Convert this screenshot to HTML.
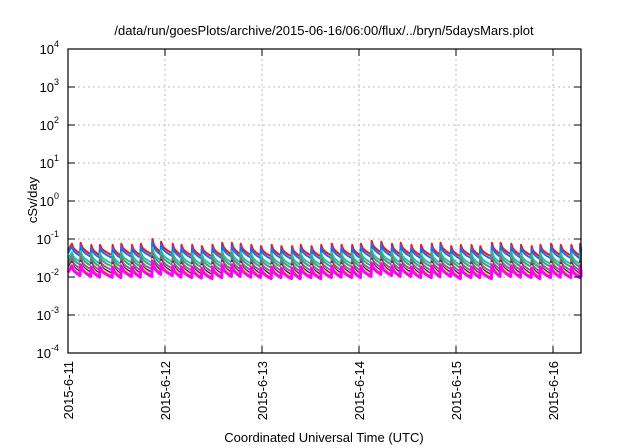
<!DOCTYPE html>
<html><head><meta charset="utf-8"><style>
body{margin:0;background:#fff}
svg{display:block;font-family:"Liberation Sans",sans-serif}
</style></head><body>
<svg id="chart" width="640" height="448" viewBox="0 0 640 448">
<rect width="640" height="448" fill="#fff"/>
<text x="324" y="35" font-size="13" text-anchor="middle">/data/run/goesPlots/archive/2015-06-16/06:00/flux/../bryn/5daysMars.plot</text>
<g id="grid"></g><g id="series"></g><g id="axes"></g>
<text x="324" y="442" font-size="13" text-anchor="middle">Coordinated Universal Time (UTC)</text>
<text transform="translate(37,200) rotate(-90)" font-size="13" text-anchor="middle">cSv/day</text>
</svg>
<script>
const dayLabels=["2015-6-11","2015-6-12","2015-6-13","2015-6-14","2015-6-15","2015-6-16"];
const yExps=[-4,-3,-2,-1,0,1,2,3,4];
const peakTimes=[0.04,0.13,0.24,0.33,0.46,0.55,0.66,0.75,0.87,0.96,1.08,1.17,1.28,1.38,1.49,1.59,1.69,1.78,1.89,1.99,2.10,2.20,2.31,2.40,2.51,2.61,2.72,2.82,2.93,3.02,3.13,3.23,3.34,3.43,3.54,3.64,3.75,3.84,3.95,4.05,4.16,4.25,4.37,4.46,4.57,4.67,4.78,4.87,4.98,5.08,5.19,5.28];
const peakVals=[0.075,0.08,0.07,0.07,0.07,0.075,0.07,0.075,0.1,0.085,0.075,0.07,0.07,0.065,0.07,0.08,0.08,0.075,0.07,0.065,0.07,0.065,0.065,0.07,0.065,0.07,0.075,0.07,0.07,0.075,0.09,0.085,0.075,0.08,0.07,0.07,0.075,0.08,0.065,0.07,0.07,0.065,0.08,0.08,0.075,0.07,0.065,0.07,0.075,0.07,0.07,0.075];
const troughVals=[0.042,0.04,0.038,0.038,0.037,0.04,0.038,0.04,0.045,0.042,0.038,0.037,0.036,0.035,0.037,0.04,0.04,0.038,0.037,0.035,0.037,0.035,0.035,0.037,0.035,0.037,0.038,0.037,0.037,0.04,0.045,0.042,0.04,0.04,0.037,0.037,0.039,0.04,0.035,0.037,0.037,0.035,0.04,0.04,0.038,0.037,0.035,0.037,0.038,0.037,0.037,0.038];
const seriesFactors=[1,0.85,0.6,0.5,0.4,0.33,0.3,0.26];
const seriesColors=["#ff1010","#1070ff","#20c8a8","#40a080","#a05a80","#2020a0","#f0f000","#ff00ff"];
const seriesWidths=[2,2,2,2,2,2,2,3];
const L=68,R=581,T=49,B=353,DAYW=97;
const xS=d=>L+d*DAYW;
const yS=v=>B-(Math.log10(v)+4)*(B-T)/8;
const NS="http://www.w3.org/2000/svg";
function mk(tag,attrs,parent){const e=document.createElementNS(NS,tag);for(const k in attrs)e.setAttribute(k,attrs[k]);parent.appendChild(e);return e;}
const grid=document.getElementById('grid'),axes=document.getElementById('axes'),ser=document.getElementById('series');
yExps.forEach(e=>{const y=yS(Math.pow(10,e));
 if(e>-4&&e<4){const g=mk('line',{x1:L,x2:R,y1:y,y2:y,stroke:'#bbb','stroke-dasharray':'2,3','stroke-width':1},grid);
 
 }
 const t1=mk('line',{x1:L,x2:L+7,y1:y,y2:y,stroke:'#000'},axes);
 
 
 const t2=mk('line',{x1:R-7,x2:R,y1:y,y2:y,stroke:'#000'},axes);
 
 
 const tx=mk('text',{x:L-9,y:y+5,'font-size':13,'text-anchor':'end'},axes);
 
 
 tx.textContent='10';const sp=mk('tspan',{dy:-7,'font-size':9},tx);sp.textContent=String(e);
});
dayLabels.forEach((lab,i)=>{const x=xS(i);
 if(i>0){const g=mk('line',{x1:x,x2:x,y1:T,y2:B,stroke:'#bbb','stroke-dasharray':'2,3'},grid);
 
 }
 const t=mk('line',{x1:x,x2:x,y1:B,y2:B-7,stroke:'#000'},axes);
 
 
 const tt=mk('line',{x1:x,x2:x,y1:T,y2:T+7,stroke:'#000'},axes);
 
 
 const tx=mk('text',{transform:`translate(${x+5},${B+8}) rotate(-90)`,'font-size':13,'text-anchor':'end'},axes);
 
 
 tx.textContent=lab;
});
const fr=mk('rect',{x:L,y:T,width:R-L,height:B-T,fill:'none',stroke:'#000','stroke-width':1.2},axes);


seriesFactors.forEach((f,s)=>{
 let pts=[];
 for(let i=0;i<peakTimes.length;i++){
  const t0=peakTimes[i],t1=i+1<peakTimes.length?peakTimes[i+1]:5.35;
  if(i===0)pts.push([xS(0),yS(troughVals[0]*f*1.2)]);
  for(let k=0;k<=6;k++){const u=k/6;const tt=t0+(t1-t0-0.005)*u;
   const v=peakVals[i]*Math.pow(troughVals[i]/peakVals[i],Math.sqrt(u));
   pts.push([Math.min(xS(tt),R),yS(v*f)]);}
 }
 const p=mk('polyline',{points:pts.map(q=>q[0].toFixed(1)+','+q[1].toFixed(1)).join(' '),fill:'none',stroke:seriesColors[s],'stroke-width':seriesWidths[s],'stroke-linejoin':'round'},ser);
 
 
});
</script>
</body></html>
